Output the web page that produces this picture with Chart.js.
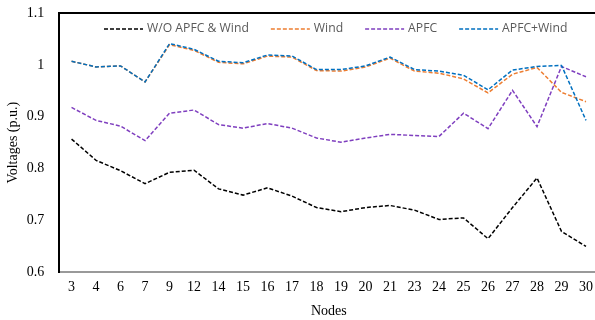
<!DOCTYPE html>
<html>
<head>
<meta charset="utf-8">
<script src="https://cdn.jsdelivr.net/npm/chart.js@4.4.0/dist/chart.umd.min.js"></script>
<style>
  html, body { margin: 0; padding: 0; background: #fff; overflow: hidden; }
  #wrap { width: 600px; height: 320px; }
</style>
</head>
<body>
<div id="wrap"><canvas id="voltChart" width="600" height="320"></canvas></div>
<script>
// node numbers on the x axis
const nodes = ['3','4','6','7','9','12','14','15','16','17','18','19','20','21','23','24','25','26','27','28','29','30'];

// voltages (p.u.)
const woApfcWind = [0.857,0.816,0.796,0.771,0.793,0.797,0.761,0.749,0.763,0.747,0.725,0.717,0.725,0.729,0.720,0.702,0.705,0.665,0.725,0.782,0.679,0.650];
const windOnly   = [1.007,0.996,0.998,0.967,1.039,1.028,1.005,1.002,1.017,1.015,0.989,0.988,0.996,1.013,0.988,0.984,0.973,0.946,0.982,0.995,0.947,0.929];
const apfcOnly   = [0.918,0.893,0.882,0.854,0.907,0.913,0.885,0.878,0.887,0.878,0.859,0.851,0.859,0.866,0.864,0.862,0.907,0.877,0.951,0.881,0.997,0.977];
const apfcWind   = [1.007,0.996,0.998,0.967,1.041,1.030,1.007,1.004,1.019,1.017,0.991,0.991,0.998,1.015,0.991,0.988,0.980,0.952,0.990,0.997,0.999,0.893];

const yTicks = [0.6, 0.7, 0.8, 0.9, 1.0, 1.1];

const serif = '"Liberation Serif", "Times New Roman", serif';

// legend drawn inside the plot, plus the black top edge of the frame
const insideLegend = {
  id: 'insideLegend',
  afterDraw(chart) {
    const ctx = chart.ctx;
    const area = chart.chartArea;
    ctx.save();
    // top frame line
    ctx.strokeStyle = '#000';
    ctx.lineWidth = 2;
    ctx.beginPath();
    ctx.moveTo(area.left - 1, area.top);
    ctx.lineTo(chart.width, area.top);
    ctx.stroke();

    ctx.font = '12.2px "Open Sans", sans-serif';
    ctx.textBaseline = 'middle';
    const y = area.top + 16;
    let x = 104;
    chart.data.datasets.forEach(ds => {
      ctx.strokeStyle = ds.borderColor;
      ctx.lineWidth = 1.5;
      ctx.setLineDash([4, 2]);
      ctx.beginPath();
      ctx.moveTo(x, y);
      ctx.lineTo(x + 39, y);
      ctx.stroke();
      ctx.setLineDash([]);
      ctx.fillStyle = '#595959';
      ctx.fillText(ds.label, x + 43, y);
      x += 43 + ctx.measureText(ds.label).width + 22;
    });
    ctx.restore();
  }
};

const makeSet = (label, values, color, order) => ({
  label: label,
  data: values,
  borderColor: color,
  backgroundColor: color,
  borderWidth: 1.5,
  borderDash: [4, 2],
  pointRadius: 0,
  tension: 0,
  fill: false,
  order: order
});

new Chart(document.getElementById('voltChart'), {
  type: 'line',
  data: {
    labels: nodes,
    datasets: [
      makeSet('W/O APFC & Wind', woApfcWind, '#000000', 3),
      makeSet('Wind', windOnly, '#ED7D31', 2),
      makeSet('APFC', apfcOnly, '#7F3FBF', 1),
      makeSet('APFC+Wind', apfcWind, '#0070C0', 0)
    ]
  },
  options: {
    responsive: false,
    animation: false,
    layout: { padding: { top: 13, right: 0, bottom: 0, left: 5 } },
    plugins: {
      legend: { display: false },
      tooltip: { enabled: false }
    },
    scales: {
      x: {
        offset: true,
        grid: { display: false, drawTicks: false },
        border: { display: true, color: '#999999', width: 2 },
        ticks: { color: '#000', font: { family: serif, size: 14 }, padding: 7, maxRotation: 0, autoSkip: false },
        title: { display: true, text: 'Nodes', color: '#000', font: { family: serif, size: 14 }, padding: { top: 0, bottom: 0 } }
      },
      y: {
        min: 0.6,
        max: 1.1,
        afterBuildTicks: axis => { axis.ticks = yTicks.map(v => ({ value: v })); },
        // invisible tick marks make the gap between labels and the axis line
        grid: { display: true, drawOnChartArea: false, drawTicks: true, tickLength: 15, tickColor: 'rgba(0,0,0,0)' },
        border: { display: true, color: '#000', width: 2 },
        ticks: { color: '#000', font: { family: serif, size: 14 }, padding: 0, callback: v => String(Math.round(v * 10) / 10) },
        title: { display: true, text: 'Voltages (p.u.)', color: '#000', font: { family: serif, size: 14 }, padding: { top: 0, bottom: 5 } }
      }
    }
  },
  plugins: [insideLegend]
});
</script>
</body>
</html>
